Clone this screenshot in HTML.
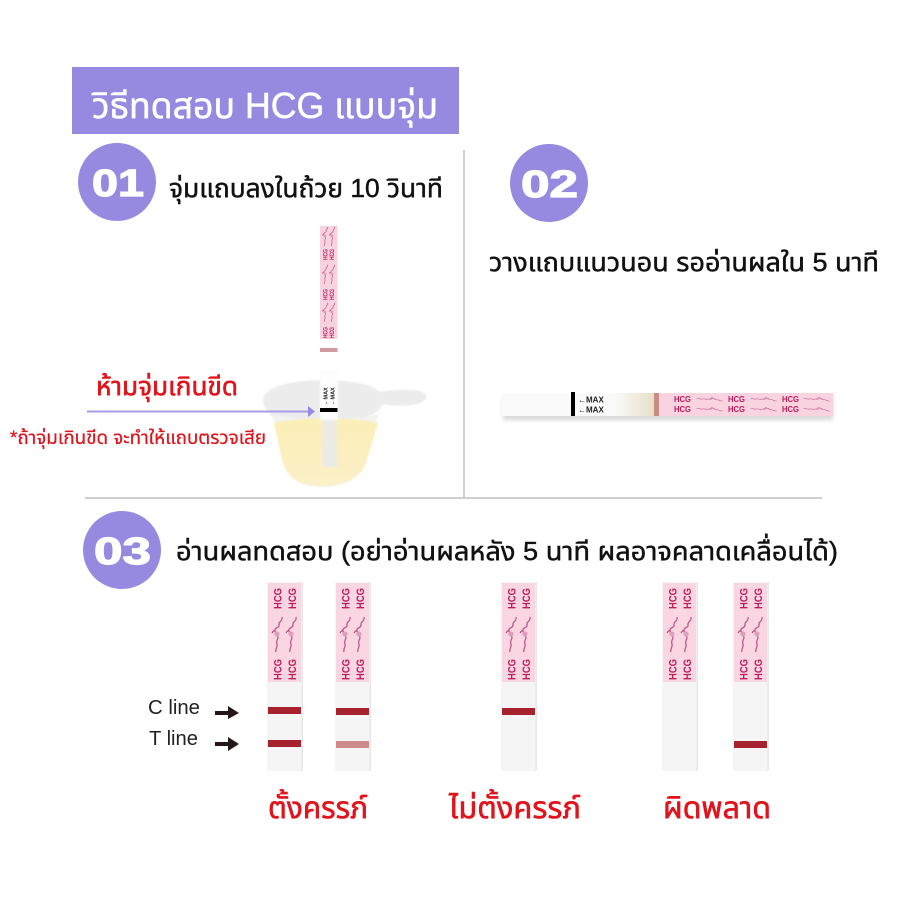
<!DOCTYPE html>
<html lang="th"><head><meta charset="utf-8"><style>
html,body{margin:0;padding:0;background:#fff}
svg{display:block}
text{font-family:"Liberation Sans","Noto Sans Thai","Loma","Garuda","Norasi","Noto Sans CJK SC",sans-serif}
.th{font-weight:400;fill:#111;font-size:26px;stroke:#111;stroke-width:.45px}
.r{fill:#e0141c;font-weight:400;stroke:#e0141c;stroke-width:.6px}
.n{fill:#fff;font-weight:700;font-size:38px;stroke:#fff;stroke-width:1.2px}
.h{fill:#bd1a5c;font-weight:700;font-size:11px}
.hs{fill:#bd1a5c;font-weight:700;font-size:6px}
</style></head><body>
<svg width="900" height="900" viewBox="0 0 900 900" xmlns="http://www.w3.org/2000/svg">
<defs>
<filter id="b"><feGaussianBlur stdDeviation="0.35"/></filter>
<filter id="s"><feGaussianBlur stdDeviation="2"/></filter>
<filter id="c"><feGaussianBlur stdDeviation="0.8"/></filter>
<g id="lg"><path d="M5 -17C6 -12 1 -13 2 -9C3 -6 -3 -7 -2 -3M0 2C3 4 -2 7 0 10C1 13 -2 14 -1 18" fill="none" stroke="#c2568a" stroke-width="1.300"/><path d="M-5 -1C-3 -5 -1 -3 -2 0" fill="none" stroke="#b5336c" stroke-width="1"/><circle cx="0" cy="0" r="2.600" fill="#dca0bd"/></g>
<linearGradient id="g" x1="0" x2="1"><stop offset="0" stop-color="#fafaf8"/><stop offset="1" stop-color="#e8dfc8"/></linearGradient>
<linearGradient id="lq" x1="0" x2="0" y1="0" y2="1"><stop offset="0" stop-color="#fbeeb5"/><stop offset="1" stop-color="#fbf0c8"/></linearGradient>
</defs>
<rect width="900" height="900" fill="#fff"/>

<!-- header -->
<rect x="72" y="67" width="387" height="67" fill="#958ae0"/>
<text x="92" y="118" fill="#fff" font-size="36" stroke="#fff" stroke-width=".5" textLength="346" lengthAdjust="spacingAndGlyphs">วิธีทดสอบ HCG แบบจุ่ม</text>

<!-- number circles -->
<circle cx="117" cy="182" r="39" fill="#958ae0"/>
<text class="n" x="92" y="196" textLength="52" lengthAdjust="spacingAndGlyphs">01</text>
<circle cx="549" cy="183" r="39" fill="#958ae0"/>
<text class="n" x="521" y="197" textLength="57" lengthAdjust="spacingAndGlyphs">02</text>
<circle cx="122" cy="550" r="39" fill="#958ae0"/>
<text class="n" x="94" y="564" textLength="57" lengthAdjust="spacingAndGlyphs">03</text>

<!-- dividers -->
<rect x="463" y="150" width="2" height="347" fill="#cfcfcf"/>
<rect x="85" y="497" width="737" height="2" fill="#cfcfcf"/>

<!-- step captions -->
<text class="th" x="169" y="197" textLength="274" lengthAdjust="spacingAndGlyphs">จุ่มแถบลงในถ้วย 10 วินาที</text>
<text class="th" x="489" y="271" textLength="390" lengthAdjust="spacingAndGlyphs">วางแถบแนวนอน รออ่านผลใน 5 นาที</text>
<text class="th" x="176" y="560" textLength="662" lengthAdjust="spacingAndGlyphs">อ่านผลทดสอบ (อย่าอ่านผลหลัง 5 นาที ผลอาจคลาดเคลื่อนได้)</text>

<!-- step 1: cup -->
<g filter="url(#c)">
<path d="M263 398C268 386 290 381 322 380C350 380 372 384 380 392C390 390 410 389 420 391C429 394 428 400 420 403C408 407 392 406 383 404C378 412 372 418 350 420L275 420C268 412 262 406 263 398Z" fill="#ececec"/>
<path d="M273 414C300 422 355 422 378 414L376 424L367 460C362 478 345 487 322 487C300 487 286 478 282 460Z" fill="#f3f3f0"/>
<path d="M274 423C300 417 355 417 378 423L367 460C361 479 345 486 322 486C300 486 287 478 282 460Z" fill="url(#lq)"/>
<path d="M322 417h15v50h-15z" fill="#ebebe4"/>
<path d="M320 370h18v50h-18z" fill="#fdfdfd"/>
</g>
<rect x="320" y="226" width="17.500" height="113" fill="#f8d3df"/>
<g filter="url(#b)">
<text class="hs" transform="translate(327.500,260) rotate(-90)" textLength="11" lengthAdjust="spacingAndGlyphs">HCG</text>
<text class="hs" transform="translate(334,260) rotate(-90)" textLength="11" lengthAdjust="spacingAndGlyphs">HCG</text>
<text class="hs" transform="translate(327.500,300) rotate(-90)" textLength="11" lengthAdjust="spacingAndGlyphs">HCG</text>
<text class="hs" transform="translate(334,300) rotate(-90)" textLength="11" lengthAdjust="spacingAndGlyphs">HCG</text>
<text class="hs" transform="translate(327.500,338) rotate(-90)" textLength="11" lengthAdjust="spacingAndGlyphs">HCG</text>
<text class="hs" transform="translate(334,338) rotate(-90)" textLength="11" lengthAdjust="spacingAndGlyphs">HCG</text>
<use href="#lg" transform="translate(325,236) scale(.55)"/><use href="#lg" transform="translate(332,236) scale(.55)"/>
<use href="#lg" transform="translate(325,274) scale(.55)"/><use href="#lg" transform="translate(332,274) scale(.55)"/>
<use href="#lg" transform="translate(325,312) scale(.55)"/><use href="#lg" transform="translate(332,312) scale(.55)"/>
</g>
<rect x="320" y="348" width="17.500" height="4" fill="#cf9aa2"/>
<text style="font-size:5.500px;font-weight:700" fill="#222" transform="translate(327.500,405) rotate(-90)">←MAX</text>
<text style="font-size:5.500px;font-weight:700" fill="#222" transform="translate(334.500,405) rotate(-90)">←MAX</text>
<rect x="320" y="408" width="17.500" height="4" fill="#000"/>
<rect x="87" y="410.500" width="222" height="2" fill="#a79de6"/>
<polygon points="308,406 315,411.500 308,417" fill="#958ae0"/>
<text class="r" x="96" y="395" font-size="26" textLength="142" lengthAdjust="spacingAndGlyphs">ห้ามจุ่มเกินขีด</text>
<text class="r" x="10" y="444" font-size="19" style="stroke-width:.25px" textLength="256" lengthAdjust="spacingAndGlyphs">*ถ้าจุ่มเกินขีด จะทำให้แถบตรวจเสีย</text>

<!-- step 2: horizontal strip -->
<rect x="503" y="397" width="330" height="23" fill="#bbb" filter="url(#s)" opacity=".6"/>
<rect x="502" y="393" width="120" height="23" fill="#fafafa"/>
<rect x="615" y="393" width="39" height="23" fill="url(#g)"/>
<rect x="571" y="392" width="4" height="24" fill="#000"/>
<rect x="654" y="393" width="5" height="23" fill="#c98d84"/>
<rect x="659" y="393" width="174" height="23" fill="#f9d3e0"/>
<g filter="url(#b)">
<text x="578" y="402.500" font-size="8" font-weight="700" fill="#222">←MAX</text>
<text x="578" y="412.500" font-size="8" font-weight="700" fill="#222">←MAX</text>
<text x="674" y="402" fill="#bd1a5c" font-weight="700" font-size="8.500" textLength="17" lengthAdjust="spacingAndGlyphs">HCG</text>
<text x="674" y="412" fill="#bd1a5c" font-weight="700" font-size="8.500" textLength="17" lengthAdjust="spacingAndGlyphs">HCG</text>
<text x="728" y="402" fill="#bd1a5c" font-weight="700" font-size="8.500" textLength="17" lengthAdjust="spacingAndGlyphs">HCG</text>
<text x="728" y="412" fill="#bd1a5c" font-weight="700" font-size="8.500" textLength="17" lengthAdjust="spacingAndGlyphs">HCG</text>
<text x="782" y="402" fill="#bd1a5c" font-weight="700" font-size="8.500" textLength="17" lengthAdjust="spacingAndGlyphs">HCG</text>
<text x="782" y="412" fill="#bd1a5c" font-weight="700" font-size="8.500" textLength="17" lengthAdjust="spacingAndGlyphs">HCG</text>
<use href="#lg" transform="translate(710,399) rotate(90) scale(.4,.75)"/><use href="#lg" transform="translate(710,409) rotate(90) scale(.4,.75)"/>
<use href="#lg" transform="translate(764,399) rotate(90) scale(.4,.75)"/><use href="#lg" transform="translate(764,409) rotate(90) scale(.4,.75)"/>
<use href="#lg" transform="translate(817,399) rotate(90) scale(.4,.75)"/><use href="#lg" transform="translate(817,409) rotate(90) scale(.4,.75)"/>
</g>

<!-- step 3: labels -->
<text x="148" y="714" font-size="20.500" fill="#222" textLength="52" lengthAdjust="spacingAndGlyphs">C line</text>
<text x="149" y="745" font-size="20.500" fill="#222" textLength="49" lengthAdjust="spacingAndGlyphs">T line</text>
<rect x="215" y="711" width="15" height="4" fill="#231815"/><polygon points="228,706 239,713 228,719" fill="#231815"/>
<rect x="215" y="742" width="15" height="4" fill="#231815"/><polygon points="228,737 239,744 228,751" fill="#231815"/>

<!-- strip 1 -->
<g>
<rect x="267" y="582" width="35" height="189" fill="#f5f5f5"/><rect x="301.500" y="582" width="1.500" height="189" fill="#e8e8e8"/>
<rect x="268" y="583" width="33" height="99" fill="#f9d6e2"/>
<g filter="url(#b)">
<text class="h" transform="translate(281.500,609) rotate(-90)" textLength="21" lengthAdjust="spacingAndGlyphs">HCG</text><text class="h" transform="translate(296,609) rotate(-90)" textLength="21" lengthAdjust="spacingAndGlyphs">HCG</text>
<text class="h" transform="translate(281.500,680) rotate(-90)" textLength="21" lengthAdjust="spacingAndGlyphs">HCG</text><text class="h" transform="translate(296,680) rotate(-90)" textLength="21" lengthAdjust="spacingAndGlyphs">HCG</text>
<use href="#lg" transform="translate(277,634)"/><use href="#lg" transform="translate(291,634)"/>
</g>
<rect x="268" y="707" width="33" height="7" fill="#a6222f"/>
<rect x="268" y="740" width="33" height="7" fill="#a6222f"/>
</g>
<!-- strip 2 -->
<g transform="translate(68,0)">
<rect x="267" y="582" width="35" height="189" fill="#f5f5f5"/><rect x="301.500" y="582" width="1.500" height="189" fill="#e8e8e8"/>
<rect x="268" y="583" width="33" height="99" fill="#f9d6e2"/>
<g filter="url(#b)">
<text class="h" transform="translate(281.500,609) rotate(-90)" textLength="21" lengthAdjust="spacingAndGlyphs">HCG</text><text class="h" transform="translate(296,609) rotate(-90)" textLength="21" lengthAdjust="spacingAndGlyphs">HCG</text>
<text class="h" transform="translate(281.500,680) rotate(-90)" textLength="21" lengthAdjust="spacingAndGlyphs">HCG</text><text class="h" transform="translate(296,680) rotate(-90)" textLength="21" lengthAdjust="spacingAndGlyphs">HCG</text>
<use href="#lg" transform="translate(277,634)"/><use href="#lg" transform="translate(291,634)"/>
</g>
<rect x="268" y="708" width="33" height="7" fill="#a6222f"/>
<rect x="268" y="741" width="33" height="7" fill="#cf8a8e"/>
</g>
<!-- strip 3 -->
<g transform="translate(234,0)">
<rect x="267" y="582" width="35" height="189" fill="#f5f5f5"/><rect x="301.500" y="582" width="1.500" height="189" fill="#e8e8e8"/>
<rect x="268" y="583" width="33" height="99" fill="#f9d6e2"/>
<g filter="url(#b)">
<text class="h" transform="translate(281.500,609) rotate(-90)" textLength="21" lengthAdjust="spacingAndGlyphs">HCG</text><text class="h" transform="translate(296,609) rotate(-90)" textLength="21" lengthAdjust="spacingAndGlyphs">HCG</text>
<text class="h" transform="translate(281.500,680) rotate(-90)" textLength="21" lengthAdjust="spacingAndGlyphs">HCG</text><text class="h" transform="translate(296,680) rotate(-90)" textLength="21" lengthAdjust="spacingAndGlyphs">HCG</text>
<use href="#lg" transform="translate(277,634)"/><use href="#lg" transform="translate(291,634)"/>
</g>
<rect x="268" y="708" width="33" height="7" fill="#a6222f"/>
</g>
<!-- strip 4 -->
<g transform="translate(395,0)">
<rect x="267" y="582" width="35" height="189" fill="#f5f5f5"/><rect x="301.500" y="582" width="1.500" height="189" fill="#e8e8e8"/>
<rect x="268" y="583" width="33" height="99" fill="#f9d6e2"/>
<g filter="url(#b)">
<text class="h" transform="translate(281.500,609) rotate(-90)" textLength="21" lengthAdjust="spacingAndGlyphs">HCG</text><text class="h" transform="translate(296,609) rotate(-90)" textLength="21" lengthAdjust="spacingAndGlyphs">HCG</text>
<text class="h" transform="translate(281.500,680) rotate(-90)" textLength="21" lengthAdjust="spacingAndGlyphs">HCG</text><text class="h" transform="translate(296,680) rotate(-90)" textLength="21" lengthAdjust="spacingAndGlyphs">HCG</text>
<use href="#lg" transform="translate(277,634)"/><use href="#lg" transform="translate(291,634)"/>
</g>
</g>
<!-- strip 5 -->
<g transform="translate(466,0)">
<rect x="267" y="582" width="35" height="189" fill="#f5f5f5"/><rect x="301.500" y="582" width="1.500" height="189" fill="#e8e8e8"/>
<rect x="268" y="583" width="33" height="99" fill="#f9d6e2"/>
<g filter="url(#b)">
<text class="h" transform="translate(281.500,609) rotate(-90)" textLength="21" lengthAdjust="spacingAndGlyphs">HCG</text><text class="h" transform="translate(296,609) rotate(-90)" textLength="21" lengthAdjust="spacingAndGlyphs">HCG</text>
<text class="h" transform="translate(281.500,680) rotate(-90)" textLength="21" lengthAdjust="spacingAndGlyphs">HCG</text><text class="h" transform="translate(296,680) rotate(-90)" textLength="21" lengthAdjust="spacingAndGlyphs">HCG</text>
<use href="#lg" transform="translate(277,634)"/><use href="#lg" transform="translate(291,634)"/>
</g>
<rect x="268" y="741" width="33" height="7" fill="#a6222f"/>
</g>

<!-- results -->
<text class="r" x="268" y="818" font-size="30" textLength="100" lengthAdjust="spacingAndGlyphs">ตั้งครรภ์</text>
<text class="r" x="449" y="818" font-size="30" textLength="132" lengthAdjust="spacingAndGlyphs">ไม่ตั้งครรภ์</text>
<text class="r" x="663" y="818" font-size="30" textLength="108" lengthAdjust="spacingAndGlyphs">ผิดพลาด</text>
</svg>
</body></html>
